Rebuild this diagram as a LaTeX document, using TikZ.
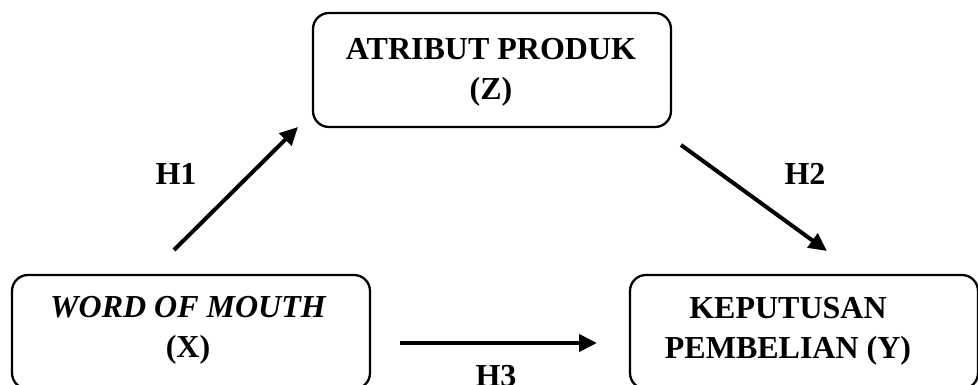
\documentclass[tikz,border=0pt]{standalone}
\usepackage{fontspec}
\setmainfont{Liberation Serif}
\usetikzlibrary{arrows.meta}
\tikzset{
  varbox/.style={draw=black, line width=2.3pt, rounded corners=16pt, minimum width=#1, minimum height=114pt, inner sep=0pt},
  vartext/.style={align=center, inner sep=0pt, font=\fontsize{32}{40}\selectfont\bfseries},
  hlabel/.style={inner sep=0pt, font=\fontsize{32}{40}\selectfont\bfseries},
  link/.style={line width=4pt, -{Triangle[length=18pt,width=17pt]}}
}
\begin{document}
\begin{tikzpicture}[x=1pt,y=-1pt]
\useasboundingbox (0,0) rectangle (978,385);
% boxes
\node[varbox=358pt] (z) at (492,70) {};
\node[varbox=358pt] (x) at (191,332) {};
\node[varbox=348pt] (y) at (804,332) {};
% texts
\node[vartext] (zt) at (491,72) {ATRIBUT PRODUK\\(Z)};
\node[vartext] (xt) at (188,330) {\itshape WORD OF MOUTH\\(X)};
\node[vartext] (yt) at (788,331) {KEPUTUSAN\\PEMBELIAN (Y)};
% labels
\node[hlabel] (h1) at (176,174) {H1};
\node[hlabel] (h2) at (805,174) {H2};
\node[hlabel] (h3) at (496,376) {H3};
% connector ends
\coordinate (a1) at (174,250);
\coordinate (b1) at (298,127);
\coordinate (a2) at (681,145);
\coordinate (b2) at (827,251);
\coordinate (a3) at (400,343);
\coordinate (b3) at (597,343);
\draw[link] (a1) -- (b1);
\draw[link] (a2) -- (b2);
\draw[link] (a3) -- (b3);
\end{tikzpicture}
\end{document}
